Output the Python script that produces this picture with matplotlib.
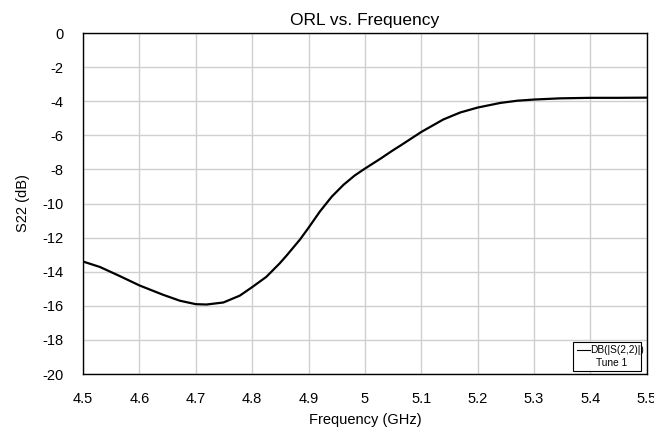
import matplotlib.pyplot as plt
from matplotlib.patches import Rectangle
from matplotlib.lines import Line2D

plt.rcParams['font.family'] = ['Liberation Sans', 'DejaVu Sans']
plt.rcParams['axes.unicode_minus'] = False

# S22 sweep, frequency in GHz, magnitude in dB
freq = [4.5, 4.53, 4.565, 4.6, 4.642, 4.672, 4.7, 4.719, 4.749, 4.778, 4.8,
        4.825, 4.849, 4.861, 4.885, 4.9, 4.92, 4.941, 4.962, 4.982, 5.0,
        5.027, 5.05, 5.063, 5.1, 5.139, 5.169, 5.2, 5.24, 5.27, 5.3, 5.346,
        5.4, 5.45, 5.5]
s22 = [-13.4, -13.72, -14.25, -14.8, -15.35, -15.7, -15.9, -15.92, -15.8,
       -15.4, -14.9, -14.3, -13.5, -13.05, -12.1, -11.42, -10.47, -9.6,
       -8.9, -8.35, -7.95, -7.38, -6.87, -6.6, -5.8, -5.07, -4.66, -4.37,
       -4.1, -3.97, -3.9, -3.83, -3.8, -3.8, -3.79]

xticks = [4.5, 4.6, 4.7, 4.8, 4.9, 5.0, 5.1, 5.2, 5.3, 5.4, 5.5]
xticklabels = ['4.5', '4.6', '4.7', '4.8', '4.9', '5', '5.1', '5.2', '5.3', '5.4', '5.5']
yticks = list(range(0, -21, -2))

fig = plt.figure(figsize=(6.54, 4.29), dpi=100)
ax = fig.add_axes([0.127, 0.128, 0.862, 0.795])

ax.plot(freq, s22, color='black', lw=1.6, solid_capstyle='round',
        solid_joinstyle='round')

ax.set_xlim(4.5, 5.5)
ax.set_ylim(-20, 0)
ax.set_xticks(xticks)
ax.set_xticklabels(xticklabels)
ax.set_yticks(yticks)
ax.grid(True, color='#cfcfcf', lw=1.0)
ax.tick_params(length=0, labelsize=10.5)
ax.tick_params(axis='x', pad=13)
ax.tick_params(axis='y', pad=14)
for s in ax.spines.values():
    s.set_linewidth(1.0)
    s.set_color('black')

ax.set_title('ORL vs. Frequency', fontsize=12.5, pad=6)
ax.set_xlabel('Frequency (GHz)', fontsize=10.5, labelpad=5)
ax.set_ylabel('S22 (dB)', fontsize=10.5, labelpad=9)

# legend box in the lower right corner
ax.add_patch(Rectangle((0.869, 0.008), 0.121, 0.086, transform=ax.transAxes,
                       fill=True, facecolor='white', edgecolor='black', lw=0.8, zorder=5))
ax.add_line(Line2D([0.876, 0.9], [0.07, 0.07], transform=ax.transAxes,
                   color='black', lw=0.8, zorder=6))
ax.text(0.9, 0.07, 'DB(|S(2,2)|)', transform=ax.transAxes, fontsize=7.3,
        va='center', ha='left', zorder=6)
ax.text(0.91, 0.032, 'Tune 1', transform=ax.transAxes, fontsize=7.3,
        va='center', ha='left', zorder=6)

fig.savefig('out.png', dpi=100)
